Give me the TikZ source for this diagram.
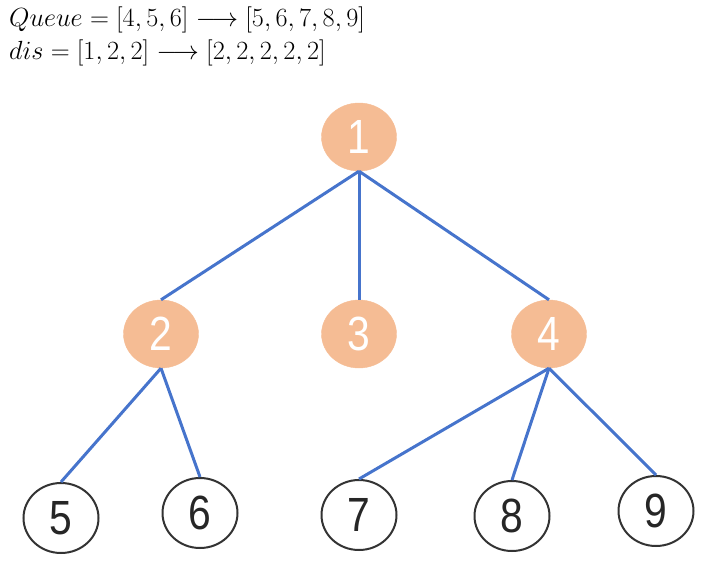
\documentclass[tikz,border=0pt]{standalone}
\usepackage{fontspec}
\usetikzlibrary{shapes.geometric}
\newfontfamily\digfont[FakeStretch=0.85]{Liberation Sans}
\begin{document}
\begin{tikzpicture}[x=1pt,y=-1pt,
  base/.style={draw, ellipse, inner sep=0pt, minimum width=75pt, minimum height=68pt, font=\digfont\fontsize{48}{48}\selectfont},
  visited/.style={base, fill=nodeorange, draw=nodeorange, text=white},
  leaf/.style={base, minimum width=75pt, minimum height=70pt, draw=black!80, line width=2pt, fill=white, text=black!85},
  edge/.style={draw=edgeblue, line width=3pt},
  eq/.style={anchor=base west, inner sep=0pt, font=\fontsize{24.5}{29}\selectfont}]
\definecolor{nodeorange}{HTML}{F5BC94}
\definecolor{edgeblue}{HTML}{4674CC}
\useasboundingbox (0,0) rectangle (728,579);
\node[eq] (q) at (9,26) {\scalebox{1.056}{$Queue=[4,5,6]\longrightarrow[5,6,7,8,9]$}};
\node[eq] (d) at (9,59) {\scalebox{1.056}{$dis=[1,2,2]\longrightarrow[2,2,2,2,2]$}};
\node[visited] (n1) at (359,137) {1};
\node[visited] (n2) at (161,334) {2};
\node[visited] (n3) at (359,334) {3};
\node[visited] (n4) at (549,334) {4};
\node[leaf] (n5) at (61,518) {5};
\node[leaf] (n6) at (200,513) {6};
\node[leaf] (n7) at (359,515) {7};
\node[leaf] (n8) at (512,516) {8};
\node[leaf] (n9) at (656,511) {9};
\draw[edge] (n1.south) -- (n2.north);
\draw[edge] (n1.south) -- (n3.north);
\draw[edge] (n1.south) -- (n4.north);
\draw[edge] (n2.south) -- (n5.north);
\draw[edge] (n2.south) -- (n6.north);
\draw[edge] (n4.south) -- (n7.north);
\draw[edge] (n4.south) -- (n8.north);
\draw[edge] (n4.south) -- (n9.north);
\end{tikzpicture}
\end{document}
